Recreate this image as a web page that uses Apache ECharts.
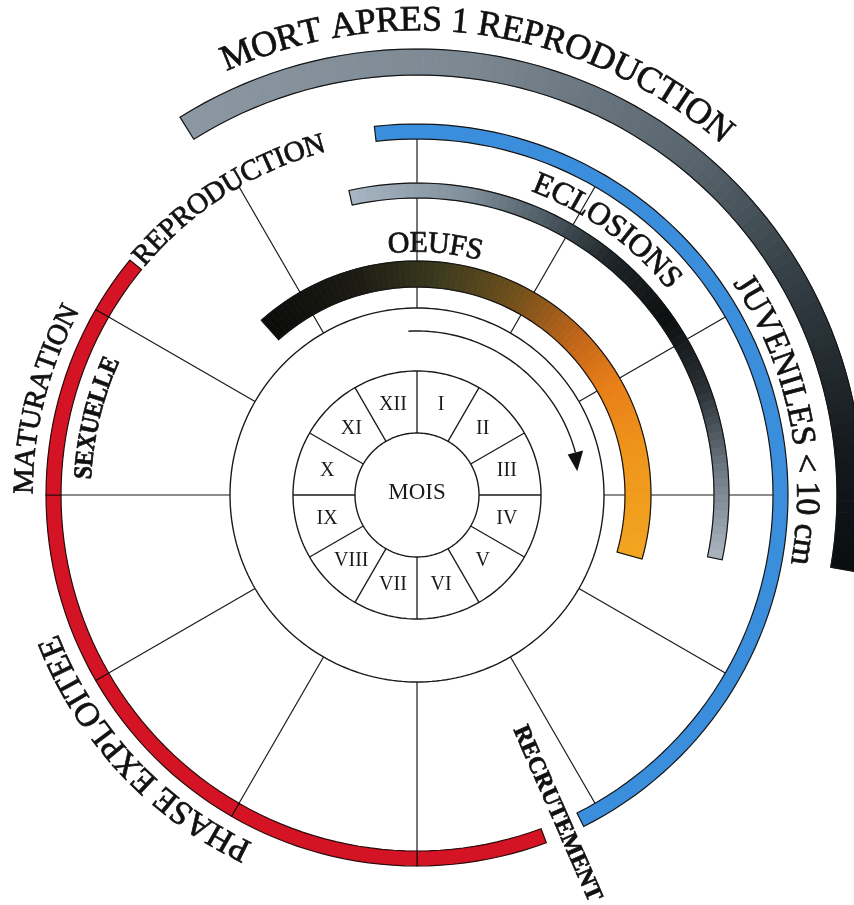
<!DOCTYPE html>
<html>
<head>
<meta charset="utf-8">
<script src="https://cdn.jsdelivr.net/npm/echarts@6/dist/echarts.min.js"></script>
<style>
  html, body { margin: 0; padding: 0; background: #fff; }
  #chart { width: 854px; height: 905px; }
</style>
</head>
<body>
<div id="chart"></div>
<script>
// angle unit = 1 month, clockwise from the top (0 = start of January)
const months = ['I', 'II', 'III', 'IV', 'V', 'VI', 'VII', 'VIII', 'IX', 'X', 'XI', 'XII'];
const centerLabel = 'MOIS';

// life-cycle periods [start month, end month]
const oeufs = [-1.39, 3.53];
const eclosions = [-0.42, 3.4];
const juveniles = [-0.22, 5.11];
const mort = [-1.07, 3.33];
const maturation = [5.32, 10.31];
const arrowSpan = [-0.1, 2.5];

// curved labels [text, centre month]
const arcLabels = [
  ['MORT APRES 1 REPRODUCTION', 0.28],
  ['REPRODUCTION', -1.08],
  ['MATURATION', -2.52],
  ['SEXUELLE', -2.55],
  ['PHASE EXPLOITEE', 7.57],
  ['JUVENILES < 10 cm', 2.61],
  ['ECLOSIONS', 1.19],
  ['OEUFS', 0.14]
];
// radial label [text, month]
const radialLabel = ['RECRUTEMENT', 5.21];

// ---- styling / layout (px radii) ----
const FONT = '"Liberation Serif", "DejaVu Serif", serif';
const RING = { mois: 62, months: 124, mid: 187, outer: 356 };
const labelStyle = [
  { r: 474, size: 36 },
  { r: 363, size: 29 },
  { r: 392, size: 29 },
  { r: 333, size: 26, weight: 'bold', squeeze: 0.9 },
  { r: 394, size: 34 },
  { r: 389, size: 34 },
  { r: 333, size: 32 },
  { r: 251, size: 30 }
];
const bandStyle = {
  mort: { r0: 420, r1: 446, stops: [[0, '#8b98a3'], [0.3, '#7b8892'], [0.55, '#56636b'], [0.72, '#2f393f'], [0.88, '#15191c'], [1, '#0b0d0e']] },
  eclosions: { r0: 297, r1: 312, stops: [[0, '#a8b6c3'], [0.2, '#7e8d99'], [0.33, '#4c5a63'], [0.46, '#1d2327'], [0.59, '#0d0f10'], [0.72, '#2b3136'], [0.86, '#707b85'], [1, '#aab5c0']] },
  oeufs: { r0: 208, r1: 234, stops: [[0, '#0a0a0a'], [0.18, '#1c1c14'], [0.32, '#3b3a1e'], [0.45, '#6b4e1c'], [0.59, '#c0651a'], [0.69, '#e87e17'], [0.82, '#ef951b'], [1, '#f2a41f']] },
  juveniles: { r0: 356, r1: 371, color: '#3a8edc' },
  maturation: { r0: 356, r1: 371, color: '#d41424' }
};

const measureCtx = document.createElement('canvas').getContext('2d');
function textWidth(s, size, weight) {
  measureCtx.font = (weight || 'normal') + ' ' + size + 'px ' + FONT;
  return measureCtx.measureText(s).width;
}

function hex(c) { return [1, 3, 5].map(i => parseInt(c.substr(i, 2), 16)); }
function colorAt(stops, t) {
  for (let i = 1; i < stops.length; i++) {
    if (t <= stops[i][0]) {
      const a = stops[i - 1], b = stops[i];
      const k = (t - a[0]) / (b[0] - a[0]);
      const ca = hex(a[1]), cb = hex(b[1]);
      return 'rgb(' + ca.map((v, j) => Math.round(v + (cb[j] - v) * k)).join(',') + ')';
    }
  }
  return stops[stops.length - 1][1];
}

function pt(api, r, a) { const p = api.coord([r, a]); return [p[0], p[1]]; }
function arcPoly(api, r0, r1, a0, a1) {
  const n = Math.max(6, Math.ceil(Math.abs(a1 - a0) * 16));
  const pts = [];
  for (let i = 0; i <= n; i++) pts.push(pt(api, r1, a0 + (a1 - a0) * i / n));
  for (let i = n; i >= 0; i--) pts.push(pt(api, r0, a0 + (a1 - a0) * i / n));
  return pts;
}
function circle(api, r) {
  const pts = [];
  for (let i = 0; i <= 240; i++) pts.push(pt(api, r, 12 * i / 240));
  return { type: 'polyline', shape: { points: pts }, style: { stroke: '#1a1a1a', lineWidth: 1.4, fill: null } };
}
function textStyle(ch, size, weight) {
  return { text: ch, fontFamily: FONT, fontSize: size, fontWeight: weight || 'normal', fill: '#111', stroke: '#111', lineWidth: 0.7, align: 'center', verticalAlign: 'middle' };
}

// grid: circles, month sectors, radial lines, month numerals
function renderGrid(params, api) {
  const children = [circle(api, RING.mois), circle(api, RING.months), circle(api, RING.mid)];
  months.forEach((m, i) => {
    const a = pt(api, RING.mois, i), b = pt(api, RING.months, i);
    const c = pt(api, RING.mid, i), d = pt(api, RING.outer, i);
    children.push({ type: 'line', shape: { x1: a[0], y1: a[1], x2: b[0], y2: b[1] }, style: { stroke: '#1a1a1a', lineWidth: 1.3 } });
    children.push({ type: 'line', shape: { x1: c[0], y1: c[1], x2: d[0], y2: d[1] }, style: { stroke: '#1a1a1a', lineWidth: 1.2 } });
    const p = pt(api, (RING.mois + RING.months) / 2, i + 0.5);
    children.push({ type: 'text', x: p[0], y: p[1], style: { text: m, fontFamily: FONT, fontSize: 20, fill: '#1a1a1a', align: 'center', verticalAlign: 'middle' } });
  });
  const o = pt(api, 0, 0);
  children.push({ type: 'text', x: o[0], y: o[1] - 2, style: { text: centerLabel, fontFamily: FONT, fontSize: 23, fill: '#1a1a1a', align: 'center', verticalAlign: 'middle' } });
  return { type: 'group', children: children };
}

const bands = [
  { span: oeufs, st: bandStyle.oeufs },
  { span: eclosions, st: bandStyle.eclosions },
  { span: mort, st: bandStyle.mort },
  { span: juveniles, st: bandStyle.juveniles }
];

function renderBand(params, api) {
  const b = bands[params.dataIndex];
  const [a0, a1] = b.span;
  const { r0, r1 } = b.st;
  const children = [];
  if (b.st.stops) {
    const n = Math.ceil((a1 - a0) * 20);
    for (let i = 0; i < n; i++) {
      const col = colorAt(b.st.stops, (i + 0.5) / n);
      children.push({ type: 'polygon', shape: { points: arcPoly(api, r0, r1, a0 + (a1 - a0) * i / n, a0 + (a1 - a0) * (i + 1) / n) }, style: { fill: col, stroke: col, lineWidth: 0.8 } });
    }
    children.push({ type: 'polygon', shape: { points: arcPoly(api, r0, r1, a0, a1) }, style: { fill: null, stroke: '#151515', lineWidth: 1.2 } });
  } else {
    children.push({ type: 'polygon', shape: { points: arcPoly(api, r0, r1, a0, a1) }, style: { fill: b.st.color, stroke: '#151515', lineWidth: 1.2 } });
  }
  return { type: 'group', children: children };
}

// red band drawn month by month
function renderMaturation(params, api) {
  const [a0, a1] = maturation;
  const { r0, r1, color } = bandStyle.maturation;
  const cuts = [a0];
  for (let m = Math.ceil(a0); m < a1; m++) if (m > a0) cuts.push(m);
  cuts.push(a1);
  const children = [];
  for (let i = 0; i < cuts.length - 1; i++) {
    children.push({ type: 'polygon', shape: { points: arcPoly(api, r0, r1, cuts[i], cuts[i + 1]) }, style: { fill: color, stroke: '#2a0a0a', lineWidth: 1.2 } });
  }
  return { type: 'group', children: children };
}

function renderArrow(params, api) {
  const [a0, a1] = arrowSpan;
  const r = 164;
  const pts = [];
  for (let i = 0; i <= 60; i++) pts.push(pt(api, r, a0 + (a1 - a0) * i / 60));
  const head = [pt(api, r - 8, a1), pt(api, r + 8, a1), pt(api, r - 2, a1 + 0.22)];
  return { type: 'group', children: [
    { type: 'polyline', shape: { points: pts }, style: { stroke: '#1a1a1a', lineWidth: 1.4, fill: null } },
    { type: 'polygon', shape: { points: head }, style: { fill: '#111' } }
  ] };
}

function renderArcLabel(params, api) {
  const [text, mid] = arcLabels[params.dataIndex];
  const { r, size, weight } = labelStyle[params.dataIndex];
  const squeeze = labelStyle[params.dataIndex].squeeze || 1;
  const widths = text.split('').map(ch => textWidth(ch, size, weight) * squeeze);
  const total = widths.reduce((s, w) => s + w, 0);
  const toMonth = px => px / r * 180 / Math.PI / 30;
  let acc = mid - toMonth(total) / 2;
  const children = [];
  text.split('').forEach((ch, i) => {
    const a = acc + toMonth(widths[i] / 2);
    acc += toMonth(widths[i]);
    if (ch === ' ') return;
    const p = pt(api, r, a);
    children.push({ type: 'text', x: p[0], y: p[1], rotation: -a * 30 * Math.PI / 180, scaleX: squeeze, style: textStyle(ch, size, weight) });
  });
  return { type: 'group', children: children };
}

function renderRadialLabel(params, api) {
  const [text, a] = radialLabel;
  const size = 24, rMid = 348;
  const widths = text.split('').map(ch => textWidth(ch, size, 'bold'));
  const total = widths.reduce((s, w) => s + w, 0);
  let acc = rMid - total / 2;
  const children = [];
  text.split('').forEach((ch, i) => {
    const p = pt(api, acc + widths[i] / 2, a);
    acc += widths[i];
    children.push({ type: 'text', x: p[0], y: p[1], rotation: (90 - a * 30) * Math.PI / 180, style: textStyle(ch, size, 'bold') });
  });
  return { type: 'group', children: children };
}

const chart = echarts.init(document.getElementById('chart'));
chart.setOption({
  backgroundColor: '#ffffff',
  animation: false,
  polar: { center: [417, 495], radius: 500 },
  angleAxis: { type: 'value', min: 0, max: 12, startAngle: 90, clockwise: true, show: false },
  radiusAxis: { type: 'value', min: 0, max: 500, show: false },
  series: [
    { type: 'custom', coordinateSystem: 'polar', silent: true, data: [[0, 0]], renderItem: renderGrid, z: 1 },
    { type: 'custom', coordinateSystem: 'polar', silent: true, data: bands.map((b, i) => [0, i]), renderItem: renderBand, z: 2 },
    { type: 'custom', coordinateSystem: 'polar', silent: true, data: [[0, 0]], renderItem: renderMaturation, z: 2 },
    { type: 'custom', coordinateSystem: 'polar', silent: true, data: [[0, 0]], renderItem: renderArrow, z: 3 },
    { type: 'custom', coordinateSystem: 'polar', silent: true, data: arcLabels.map((l, i) => [0, i]), renderItem: renderArcLabel, z: 4 },
    { type: 'custom', coordinateSystem: 'polar', silent: true, data: [[0, 0]], renderItem: renderRadialLabel, z: 4 }
  ]
});
window.addEventListener('resize', () => chart.resize());
</script>
</body>
</html>
